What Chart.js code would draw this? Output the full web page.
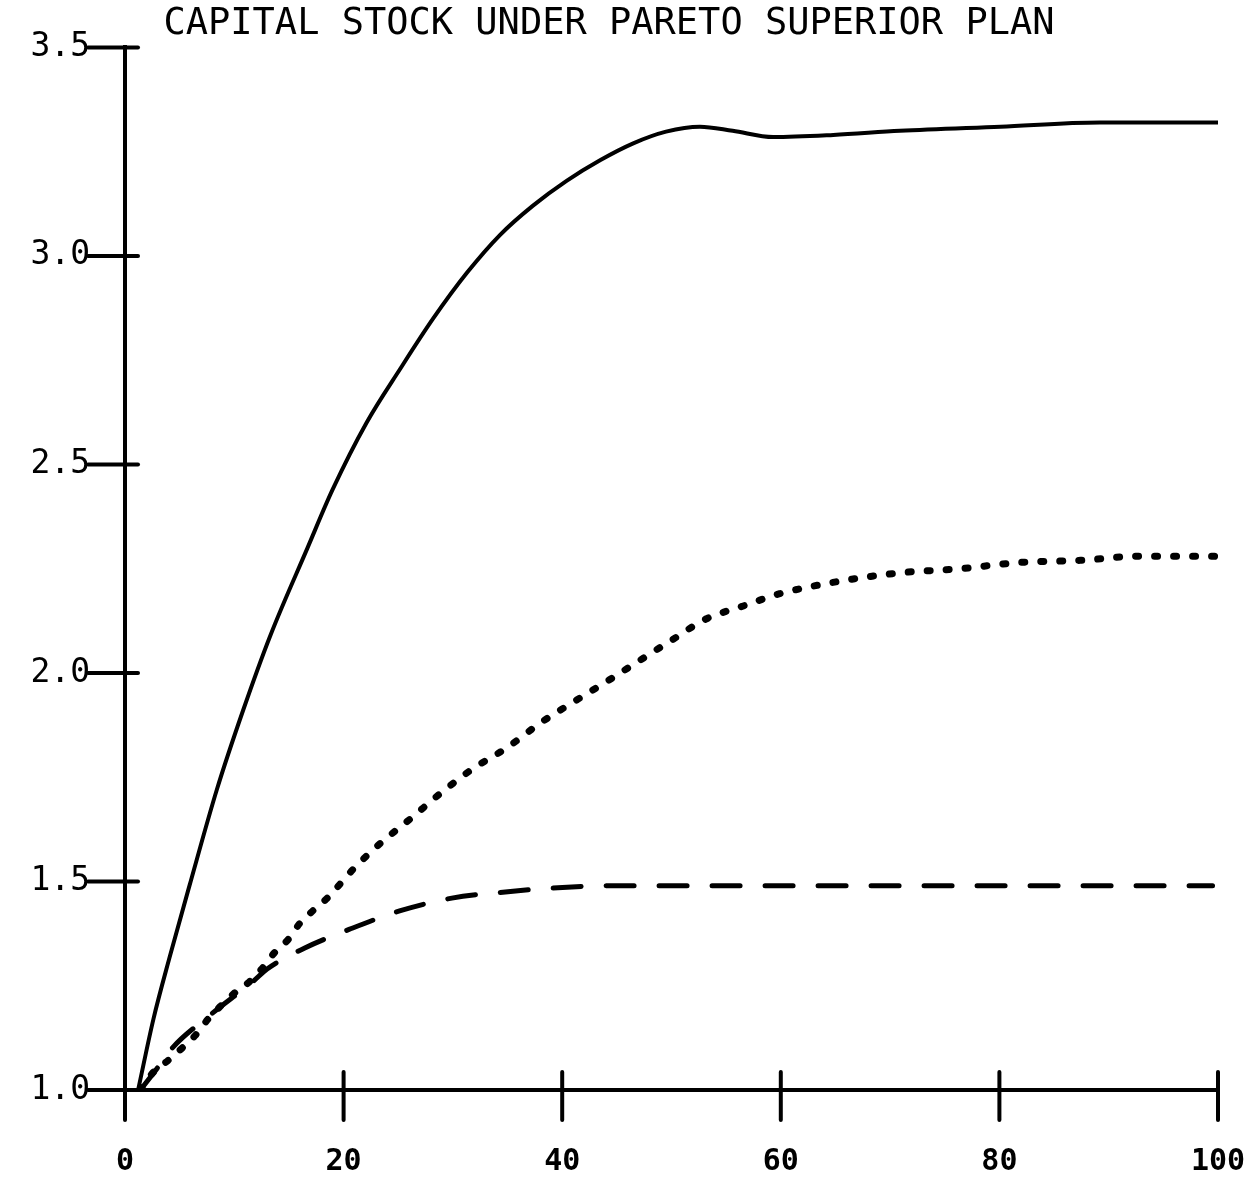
<!DOCTYPE html>
<html>
<head>
<meta charset="utf-8">
<script src="https://cdn.jsdelivr.net/npm/chart.js@4/dist/chart.umd.min.js"></script>
<style>
  body { margin: 0; background: #fff; }
  #wrap { width: 1247px; height: 1189px; }
</style>
</head>
<body>
<div id="wrap"><canvas id="capital-chart"></canvas></div>
<script>
// values
var solidX  = [1.2, 2.6, 4.1, 5.9, 8.4, 10.8, 13.3, 16.7, 19.0, 22.1, 25.2, 28.2, 31.3, 34.3, 37.3, 40.4, 43.5, 46.5, 49.5, 52.6, 55.6, 59.3, 64.8, 70.9, 80.1, 89.2, 100];
var solidY  = [1.0, 1.17, 1.32, 1.49, 1.72, 1.91, 2.09, 2.30, 2.44, 2.60, 2.73, 2.85, 2.96, 3.05, 3.12, 3.18, 3.23, 3.27, 3.298, 3.31, 3.30, 3.285, 3.29, 3.30, 3.31, 3.32, 3.32];

var dottedX = [1.4, 2.5, 3.9, 5.2, 6.4, 7.6, 8.7, 9.9, 11.4, 12.5, 13.7, 14.9, 16.0, 17.2, 18.5, 20.9, 23.3, 26.1, 28.8, 31.8, 34.9, 38.0, 41.0, 44.1, 47.1, 50.1, 53.2, 56.5, 59.9, 65.4, 70.9, 76.4, 81.9, 87.4, 92.9, 99.9];
var dottedY = [1.0, 1.04, 1.07, 1.10, 1.13, 1.17, 1.20, 1.23, 1.26, 1.29, 1.33, 1.36, 1.40, 1.43, 1.46, 1.53, 1.59, 1.65, 1.71, 1.77, 1.82, 1.88, 1.93, 1.98, 2.03, 2.08, 2.13, 2.16, 2.19, 2.22, 2.24, 2.25, 2.265, 2.27, 2.28, 2.28];

var dashedX = [1.4, 2.6, 4.3, 7.8, 11.7, 13.0, 16.4, 20.5, 25.2, 29.9, 34.8, 39.6, 44.6, 60, 80, 99.5];
var dashedY = [1.0, 1.04, 1.10, 1.18, 1.26, 1.29, 1.34, 1.385, 1.43, 1.46, 1.475, 1.485, 1.49, 1.49, 1.49, 1.49];

var xTicks = [0, 20, 40, 60, 80, 100];
var yTicks = [1.0, 1.5, 2.0, 2.5, 3.0, 3.5];

var plotFont = 'DejaVu Sans Mono';

function toPoints(xs, ys) {
  return xs.map(function (x, i) { return { x: x, y: ys[i] }; });
}

// tick marks that cross the axes, like the plotter drew them
var crossTicks = {
  id: 'crossTicks',
  afterDraw: function (chart) {
    var ctx = chart.ctx;
    var xs = chart.scales.x, ys = chart.scales.y;
    var x0 = xs.getPixelForValue(0), y0 = ys.getPixelForValue(1.0);
    ctx.save();
    ctx.strokeStyle = '#000';
    ctx.lineWidth = 4;
    ctx.lineCap = 'round';
    yTicks.forEach(function (v) {
      var p = ys.getPixelForValue(v);
      ctx.beginPath();
      ctx.moveTo(x0 - 37, p);
      ctx.lineTo(x0 + 13, p);
      ctx.stroke();
    });
    xTicks.forEach(function (v) {
      var p = xs.getPixelForValue(v);
      ctx.beginPath();
      ctx.moveTo(p, y0 - 18);
      ctx.lineTo(p, y0 + 30);
      ctx.stroke();
    });
    ctx.restore();
  }
};

var ctx = document.getElementById('capital-chart').getContext('2d');
var capitalChart = new Chart(ctx, {
  type: 'line',
  data: {
    datasets: [
      {
        label: 'solid',
        data: toPoints(solidX, solidY),
        borderColor: '#000',
        borderWidth: 4,
        cubicInterpolationMode: 'monotone'
      },
      {
        label: 'dotted',
        data: toPoints(dottedX, dottedY),
        borderColor: '#000',
        borderWidth: 7,
        borderDash: [3, 16],
        borderCapStyle: 'round',
        cubicInterpolationMode: 'monotone'
      },
      {
        label: 'dashed',
        data: toPoints(dashedX, dashedY),
        borderColor: '#000',
        borderWidth: 5,
        borderDash: [28, 25],
        borderCapStyle: 'round',
        cubicInterpolationMode: 'monotone'
      }
    ]
  },
  options: {
    responsive: true,
    maintainAspectRatio: false,
    animation: false,
    layout: { padding: { left: 0, right: 29, top: 0, bottom: 0 } },
    elements: { point: { radius: 0 } },
    plugins: {
      legend: { display: false },
      tooltip: { enabled: false },
      title: {
        display: true,
        text: 'CAPITAL STOCK UNDER PARETO SUPERIOR PLAN',
        color: '#000',
        font: { family: plotFont, size: 37, weight: 'normal', lineHeight: 1.2 },
        padding: { top: 2, bottom: 1 }
      }
    },
    scales: {
      x: {
        type: 'linear',
        min: 0,
        max: 100,
        afterFit: function (scale) {
          scale.height = 99;
          scale.paddingLeft = 0;
          scale.paddingRight = 0;
        },
        afterBuildTicks: function (scale) {
          scale.ticks = xTicks.map(function (v) { return { value: v }; });
        },
        grid: { display: false, drawTicks: false },
        border: { display: true, color: '#000', width: 4 },
        ticks: {
          color: '#000',
          padding: 54,
          maxRotation: 0,
          font: { family: plotFont, size: 30, weight: 'bold' }
        }
      },
      y: {
        type: 'linear',
        min: 1.0,
        max: 3.5,
        afterFit: function (scale) {
          scale.width = 125;
          scale.paddingTop = 0;
          scale.paddingBottom = 0;
        },
        afterBuildTicks: function (scale) {
          scale.ticks = yTicks.map(function (v) { return { value: v }; });
        },
        grid: { display: false, drawTicks: false },
        border: { display: true, color: '#000', width: 4 },
        ticks: {
          color: '#000',
          padding: 35,
          font: { family: plotFont, size: 33 },
          callback: function (v) { return v.toFixed(1); }
        }
      }
    }
  },
  plugins: [crossTicks]
});
</script>
</body>
</html>
